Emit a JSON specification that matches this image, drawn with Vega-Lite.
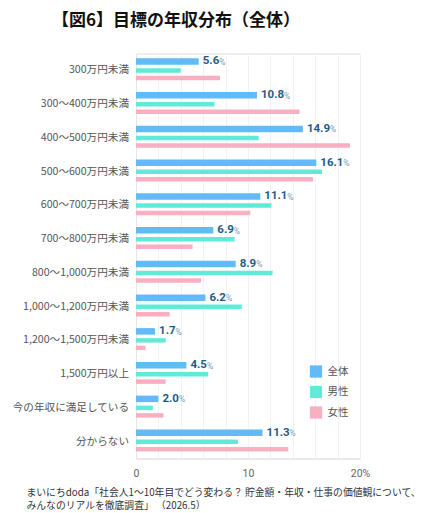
{
"$schema":"https://vega.github.io/schema/vega-lite/v6.json",
"width":224,"height":405,
"autosize":{"type":"none"},
"padding":{"left":136,"top":53.5,"right":67,"bottom":54.5},
"background":"white",
"title":{"text":"【図6】目標の年収分布（全体）","anchor":"start","frame":"group","dx":-84,"offset":24,"font":"Noto Sans CJK JP","fontSize":17,"fontWeight":"bold","color":"#111111"},
"data":{"values":[
{"c":"300万円未満","s":"全体","v":5.6},{"c":"300万円未満","s":"男性","v":4.0},{"c":"300万円未満","s":"女性","v":7.5},
{"c":"300〜400万円未満","s":"全体","v":10.8},{"c":"300〜400万円未満","s":"男性","v":7.0},{"c":"300〜400万円未満","s":"女性","v":14.6},
{"c":"400〜500万円未満","s":"全体","v":14.9},{"c":"400〜500万円未満","s":"男性","v":10.95},{"c":"400〜500万円未満","s":"女性","v":19.1},
{"c":"500〜600万円未満","s":"全体","v":16.1},{"c":"500〜600万円未満","s":"男性","v":16.6},{"c":"500〜600万円未満","s":"女性","v":15.8},
{"c":"600〜700万円未満","s":"全体","v":11.1},{"c":"600〜700万円未満","s":"男性","v":12.1},{"c":"600〜700万円未満","s":"女性","v":10.2},
{"c":"700〜800万円未満","s":"全体","v":6.9},{"c":"700〜800万円未満","s":"男性","v":8.8},{"c":"700〜800万円未満","s":"女性","v":5.05},
{"c":"800〜1,000万円未満","s":"全体","v":8.9},{"c":"800〜1,000万円未満","s":"男性","v":12.2},{"c":"800〜1,000万円未満","s":"女性","v":5.8},
{"c":"1,000〜1,200万円未満","s":"全体","v":6.2},{"c":"1,000〜1,200万円未満","s":"男性","v":9.45},{"c":"1,000〜1,200万円未満","s":"女性","v":3.0},
{"c":"1,200〜1,500万円未満","s":"全体","v":1.7},{"c":"1,200〜1,500万円未満","s":"男性","v":2.65},{"c":"1,200〜1,500万円未満","s":"女性","v":0.85},
{"c":"1,500万円以上","s":"全体","v":4.5},{"c":"1,500万円以上","s":"男性","v":6.45},{"c":"1,500万円以上","s":"女性","v":2.65},
{"c":"今の年収に満足している","s":"全体","v":2.0},{"c":"今の年収に満足している","s":"男性","v":1.5},{"c":"今の年収に満足している","s":"女性","v":2.45},
{"c":"分からない","s":"全体","v":11.3},{"c":"分からない","s":"男性","v":9.1},{"c":"分からない","s":"女性","v":13.6}
]},
"encoding":{
"y":{"field":"c","type":"nominal","sort":null,"title":null,"scale":{"paddingInner":0,"paddingOuter":0},
"axis":{"labelFont":"Noto Sans CJK JP","labelFontSize":10.6,"labelColor":"#555555","ticks":false,"labelPadding":7.5,"domainColor":"#e6e6e6","grid":false,"labelLimit":140}},
"x":{"field":"v","type":"quantitative","title":null,"scale":{"domain":[0,20],"nice":false},
"axis":{"values":[0,2,4,6,8,10,12,14,16,18,20],"labelExpr":"datum.value==20?'20%':(datum.value%10==0?datum.label:'')","labelFlush":false,"labelOverlap":false,"labelFont":"Roboto","labelFontSize":10.5,"labelColor":"#666666","ticks":false,"labelPadding":10,"gridColor":"#f2f2f2","domainColor":"#e6e6e6",
"title":["まいにちdoda「社会人1〜10年目でどう変わる？ 貯金額・年収・仕事の価値観について、","みんなのリアルを徹底調査」 （2026.5）"],"titleFont":"Noto Sans CJK JP","titleFontSize":9.8,"titleFontWeight":"normal","titleColor":"#333333","titleAnchor":"start","titleAlign":"left","titleBaseline":"top","titleX":-110,"titleY":29,"titleLineHeight":13}}
},
"layer":[
{"transform":[{"filter":"datum.s=='全体'"}],"mark":{"type":"bar","size":6.5,"yOffset":-9},
 "encoding":{"color":{"field":"s","type":"nominal","sort":null,"scale":{"domain":["全体","男性","女性"],"range":["#62BAF6","#62EAD8","#F9AFC2"]},
 "legend":{"orient":"none","legendX":173.5,"legendY":311.5,"title":null,"symbolType":"square","symbolSize":150,"labelFont":"Noto Sans CJK JP","labelFontSize":10.5,"labelColor":"#555555","rowPadding":7.5,"labelOffset":5,"symbolStrokeWidth":0}}}},
{"transform":[{"filter":"datum.s=='男性'"}],"mark":{"type":"bar","size":4.5,"yOffset":0},"encoding":{"color":{"field":"s","type":"nominal","sort":null}}},
{"transform":[{"filter":"datum.s=='女性'"}],"mark":{"type":"bar","size":4.5,"yOffset":7.5},"encoding":{"color":{"field":"s","type":"nominal","sort":null}}},
{"transform":[{"filter":"datum.s=='全体'"}],"mark":{"type":"text","align":"left","baseline":"middle","dx":4,"yOffset":-9,"font":"Roboto","fontSize":11.5,"fontWeight":"bold","color":"#1F5C85"},"encoding":{"text":{"field":"v","type":"quantitative","format":".1f"}}},
{"transform":[{"filter":"datum.s=='全体' && datum.v<10"}],"mark":{"type":"text","align":"left","baseline":"middle","dx":20.5,"yOffset":-8.5,"font":"Roboto","fontSize":8.5,"color":"#7C9CB0","text":"%"}},
{"transform":[{"filter":"datum.s=='全体' && datum.v>=10"}],"mark":{"type":"text","align":"left","baseline":"middle","dx":27,"yOffset":-8.5,"font":"Roboto","fontSize":8.5,"color":"#7C9CB0","text":"%"}}
]
}
